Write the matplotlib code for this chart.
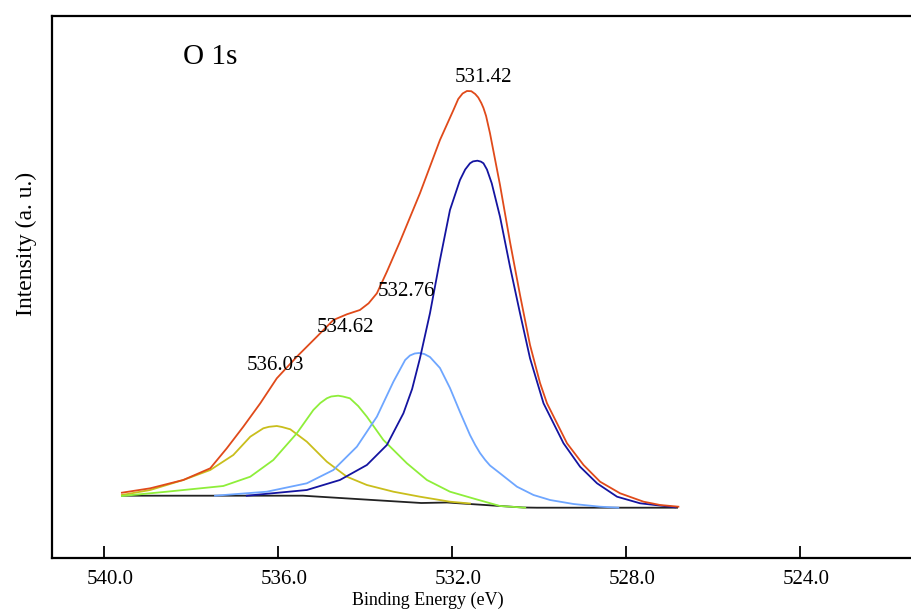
import matplotlib
matplotlib.use("Agg")
import matplotlib.pyplot as plt
import matplotlib.transforms as mtransforms

plt.rcParams["font.family"] = ["Liberation Serif", "DejaVu Serif"]
plt.rcParams["lines.solid_joinstyle"] = "round"

# O 1s fit: binding energy (eV) / intensity (a.u.)
env_be = [539.59, 538.94, 538.18, 537.56, 537.18, 536.80, 536.41, 536.03, 535.57,
          535.11, 534.73, 534.42, 534.12, 533.92, 533.73, 533.50, 533.20, 532.74,
          532.28, 531.97, 531.86, 531.76, 531.66, 531.56, 531.47, 531.40, 531.33,
          531.28, 531.22, 531.13, 530.90, 530.67, 530.44, 530.21, 529.98,
          529.82, 529.59, 529.36, 528.98, 528.60, 528.14, 527.60, 527.22, 526.80]
env_int = [6.53, 6.97, 7.80, 8.97, 10.97, 13.13, 15.47, 17.97, 20.13,
           22.13, 23.80, 24.37, 24.80, 25.47, 26.47, 28.63, 31.63, 36.47,
           41.80, 44.80, 45.90, 46.45, 46.70, 46.68, 46.40, 46.05, 45.50,
           45.00, 44.20, 42.47, 37.30, 31.60, 26.30, 21.30, 17.50,
           15.47, 13.47, 11.47, 9.30, 7.63, 6.47, 5.63, 5.30, 5.13]

p1_be = [536.72, 535.34, 534.58, 533.96, 533.50, 533.12, 532.92, 532.74, 532.51,
         532.28, 532.05, 531.82, 531.70, 531.59, 531.52, 531.42, 531.34, 531.28,
         531.20, 531.09, 530.90, 530.67, 530.44, 530.21, 529.90, 529.44, 529.06,
         528.67, 528.21, 527.68, 526.87]
p1_int = [6.23, 6.80, 7.80, 9.30, 11.30, 14.47, 16.90, 19.97, 24.47,
          29.80, 34.80, 37.80, 38.85, 39.47, 39.66, 39.73, 39.64, 39.47,
          38.85, 37.47, 34.13, 29.13, 24.47, 19.97, 15.47, 11.47, 9.13,
          7.47, 6.13, 5.47, 5.07]

p2_be = [537.45, 536.26, 535.34, 534.73, 534.19, 533.73, 533.35, 533.08, 532.97,
         532.86, 532.76, 532.64, 532.51, 532.28, 532.05, 531.82, 531.59, 531.47,
         531.36, 531.24, 531.13, 530.90, 530.51, 530.13, 529.75, 529.21, 528.60,
         528.18]
p2_int = [6.23, 6.63, 7.47, 8.80, 11.13, 14.13, 17.63, 19.80, 20.25,
          20.45, 20.50, 20.40, 20.10, 19.00, 17.00, 14.60, 12.30, 11.30,
          10.50, 9.80, 9.25, 8.47, 7.13, 6.30, 5.80, 5.40, 5.13,
          5.03]

p3_be = [539.59, 538.56, 537.26, 536.64, 536.11, 535.57, 535.19, 535.03, 534.88,
         534.78, 534.62, 534.51, 534.35, 534.16, 533.96, 533.58, 533.04, 532.58,
         532.05, 531.47, 530.90, 530.32]
p3_int = [6.20, 6.63, 7.20, 8.13, 9.80, 12.47, 14.80, 15.50, 15.97,
          16.15, 16.23, 16.15, 15.97, 15.20, 14.13, 11.80, 9.47, 7.80,
          6.63, 5.90, 5.20, 5.03]

p4_be = [539.59, 538.94, 538.18, 537.56, 537.03, 536.64, 536.34, 536.21, 536.03,
         535.91, 535.72, 535.34, 534.88, 534.42, 533.96, 533.35, 532.74, 532.05,
         531.59]
p4_int = [6.30, 6.80, 7.80, 8.80, 10.30, 12.13, 12.97, 13.12, 13.20,
          13.10, 12.87, 11.63, 9.63, 8.13, 7.30, 6.63, 6.13, 5.63,
          5.45]

bg_be = [539.59, 535.43, 532.71, 532.12, 530.37, 530.05, 526.83]
bg_int = [6.23, 6.23, 5.50, 5.55, 5.05, 5.03, 5.03]

peak_pos = [531.42, 532.76, 534.62, 536.03]
peak_lbl = ["531.42", "532.76", "534.62", "536.03"]
lbl_y = [48.0, 26.7, 23.0, 19.3]
lbl_dx = [-0.13, 0.30, -0.16, 0.04]

xticks = [540.0, 536.0, 532.0, 528.0, 524.0]

fig = plt.figure(figsize=(9.11, 6.14), dpi=100)
ax = fig.add_axes([52.3 / 911, 56 / 614, 868 / 911, 542 / 614])

ax.plot(bg_be, bg_int, color="#222222", lw=1.3)
ax.plot(p4_be, p4_int, color="#C9BE1C", lw=1.3)
ax.plot(p3_be, p3_int, color="#8EEE3A", lw=1.3)
ax.plot(p2_be, p2_int, color="#6EA6FF", lw=1.3)
ax.plot(p1_be, p1_int, color="#1414A0", lw=1.3)
ax.plot(env_be, env_int, color="#E04A1A", lw=1.3)

for pos, txt, y, dx in zip(peak_pos, peak_lbl, lbl_y, lbl_dx):
    ax.text(pos + dx, y, txt, ha="center", va="center", fontsize=15)

ax.text(0.182, 0.924, "O 1s", transform=ax.transAxes, ha="center", va="center",
        fontsize=21)

ax.set_xlim(541.19, 521.24)
ax.set_ylim(0, 54.2)
ax.set_xticks(xticks)
ax.set_xticklabels(["{:.1f}".format(t) for t in xticks])
ax.set_yticks([])
ax.tick_params(axis="x", direction="in", length=8.5, width=1.3, labelsize=15, pad=9)
offset = mtransforms.ScaledTranslation(0.06, 0, fig.dpi_scale_trans)
for lab in ax.get_xticklabels():
    lab.set_transform(lab.get_transform() + offset)

for s in ["top", "left", "bottom"]:
    ax.spines[s].set_linewidth(1.6)
ax.spines["right"].set_visible(False)

ax.set_xlabel("Binding Energy (eV)", fontsize=13)
ax.xaxis.set_label_coords((428 - 52.3) / 868, -0.062)
ax.set_ylabel("Intensity (a. u.)", fontsize=17)
ax.yaxis.set_label_coords(-0.0176, 0.58)

fig.savefig("out.png", dpi=100)
